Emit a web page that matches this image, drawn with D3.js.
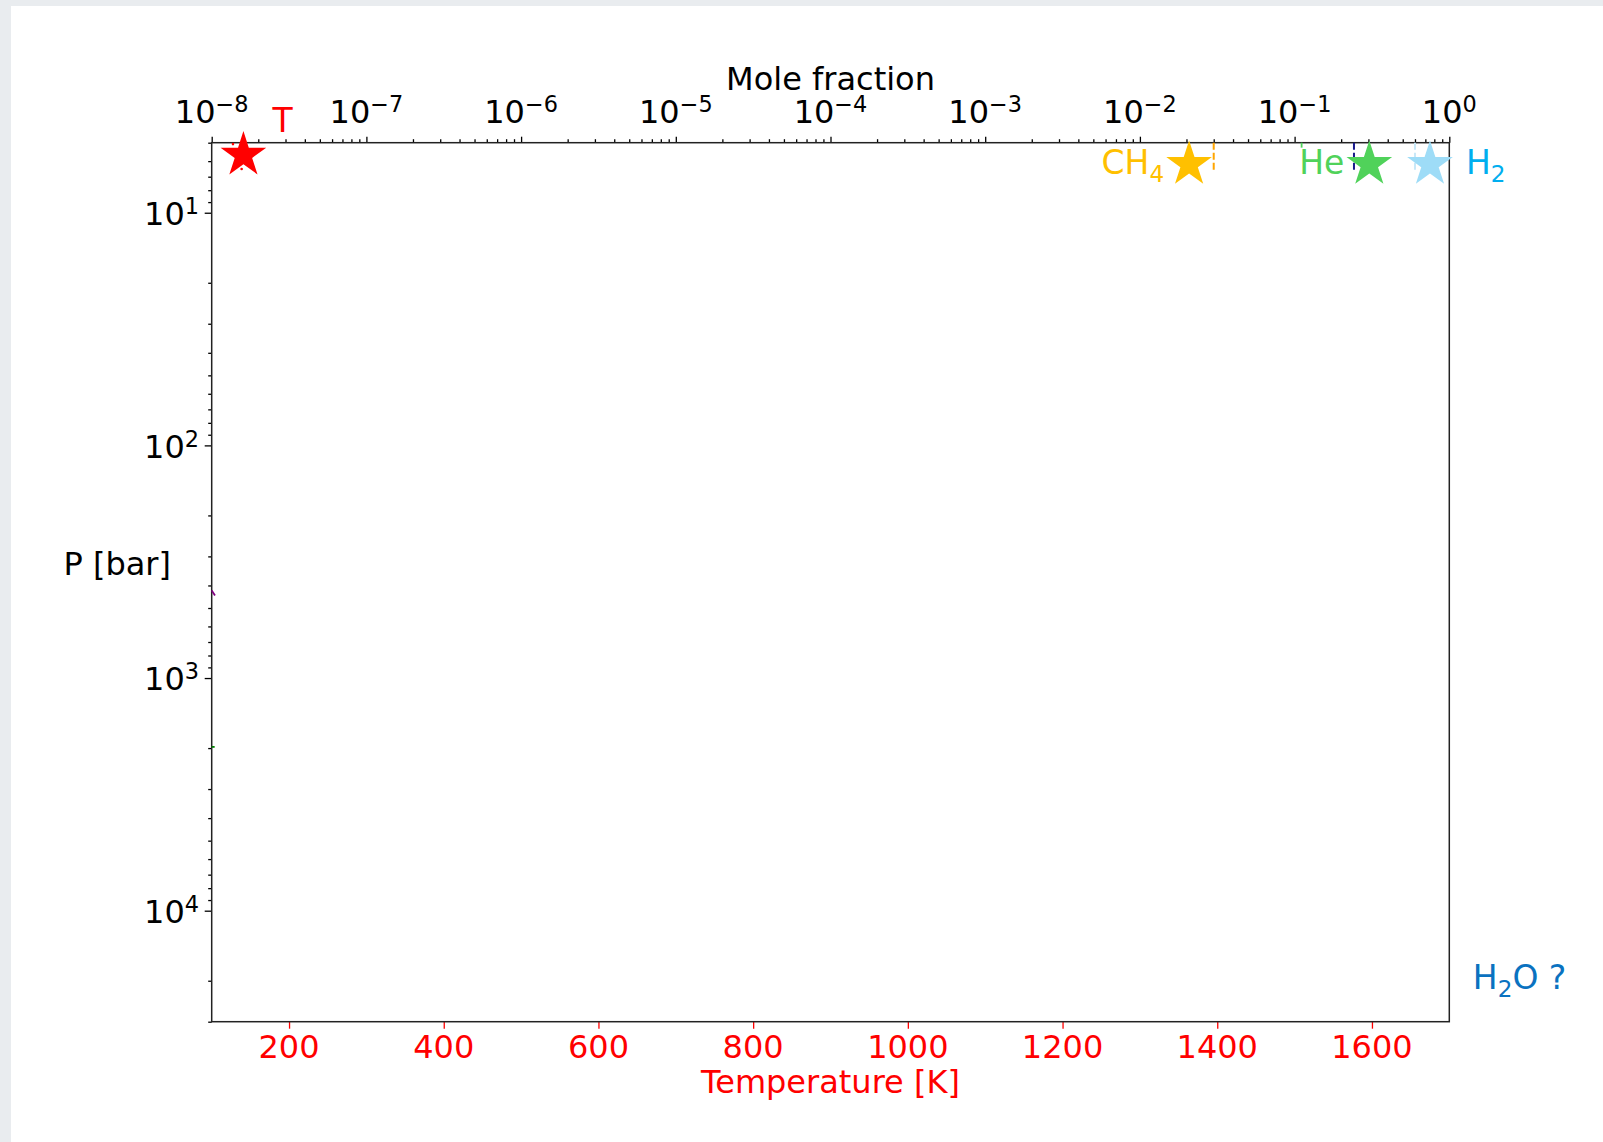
<!DOCTYPE html>
<html><head><meta charset="utf-8">
<script src="https://cdn.jsdelivr.net/npm/d3@7"></script>
<style>
html,body{margin:0;padding:0;background:#e9ecef;overflow:hidden;}
svg{display:block;}
text{font-family:"DejaVu Sans",sans-serif;}
</style></head><body>
<svg id="chart" width="1603" height="1142"></svg>
<script>
// ---- data ----
const tempTicks = [200, 400, 600, 800, 1000, 1200, 1400, 1600];
const moleExponents = [-8, -7, -6, -5, -4, -3, -2, -1, 0];
const pressureExponents = [1, 2, 3, 4];
const tempDomain = [100, 1700];
const moleDomain = [1e-8, 1];
const pressureDomain = [5, 3e4];

const tProfileStar = {T: 141, P: 5.65};
const tDotsT = [127.5, 138.7];
const tDotsP = [5.07, 6.49];

const speciesNames = ["CH4", "He", "H2"];
const speciesStarMole = [0.0208, 0.304, 0.75];
const speciesStarP = [6.2, 6.2, 6.2];
const speciesDashMole = [0.030, 0.242, 0.60];
const dashPRange = [5, 6.6];

const purpleMarkMole = [1.0e-8, 1.05e-8];
const purpleMarkP = [420, 442];
const greenMarkMole = [1.0e-8, 1.045e-8];
const greenMarkP = [1977, 1977];
const greenTickMole = 0.111;
const greenTickP = [5, 5.25];

const h2oLabel = {mole: 1.42, P: 21800};

// ---- layout ----
const W = 1603, H = 1142;
const L = 211.7, R = 1449.3, TOP = 142.7, BOT = 1021.7;
const FS = 32;
const FS_SP = 33;

const svg = d3.select("#chart");
svg.append("rect").attr("x", 11).attr("y", 6).attr("width", W - 11).attr("height", H - 6).attr("fill", "#fff");

const xT = d3.scaleLinear().domain(tempDomain).range([L, R]);
const xM = d3.scaleLog().domain(moleDomain).range([L, R]);
const yP = d3.scaleLog().domain(pressureDomain).range([TOP, BOT]);

const moleMajors = moleExponents.map(e => Math.pow(10, e));
const moleMinors = [];
moleExponents.slice(0, -1).forEach(e => { for (let k = 2; k <= 9; k++) moleMinors.push(k * Math.pow(10, e)); });
const pMajors = pressureExponents.map(e => Math.pow(10, e));
const pMinors = [];
[0, 1, 2, 3, 4].forEach(e => { for (let k = 2; k <= 9; k++) { const v = k * Math.pow(10, e); if (v >= pressureDomain[0] && v <= pressureDomain[1]) pMinors.push(v); } });

function styleAxis(g, color) {
  g.select(".domain").remove();
  g.selectAll(".tick line").attr("stroke", color).attr("stroke-width", 1.3);
  g.selectAll(".tick text").remove();
}

// top axis
svg.append("g").attr("transform", `translate(0,${TOP})`)
  .call(d3.axisTop(xM).tickValues(moleMajors).tickSize(6).tickFormat(""))
  .call(g => styleAxis(g, "#000"));
svg.append("g").attr("transform", `translate(0,${TOP})`)
  .call(d3.axisTop(xM).tickValues(moleMinors).tickSize(3.5).tickFormat(""))
  .call(g => styleAxis(g, "#000"));
// left axis
svg.append("g").attr("transform", `translate(${L},0)`)
  .call(d3.axisLeft(yP).tickValues(pMajors).tickSize(7).tickFormat(""))
  .call(g => styleAxis(g, "#000"));
svg.append("g").attr("transform", `translate(${L},0)`)
  .call(d3.axisLeft(yP).tickValues(pMinors).tickSize(3.5).tickFormat(""))
  .call(g => styleAxis(g, "#000"));
// bottom axis
svg.append("g").attr("transform", `translate(0,${BOT})`)
  .call(d3.axisBottom(xT).tickValues(tempTicks).tickSize(7).tickFormat(""))
  .call(g => styleAxis(g, "#ff0000"));

// frame
svg.append("rect").attr("x", L).attr("y", TOP).attr("width", R - L).attr("height", BOT - TOP)
  .attr("fill", "none").attr("stroke", "#222").attr("stroke-width", 1.5);

// tick labels
function powLabel(sel, e) {
  sel.append("tspan").text("10");
  sel.append("tspan").attr("font-size", FS * 0.7).attr("dy", -11).text((e < 0 ? "\u2212" : "") + Math.abs(e));
}
moleExponents.forEach(e => {
  const t = svg.append("text").attr("x", xM(Math.pow(10, e))).attr("y", 123)
    .attr("text-anchor", "middle").attr("font-size", FS).attr("fill", "#000");
  powLabel(t, e);
});
pressureExponents.forEach(e => {
  const t = svg.append("text").attr("x", 199).attr("y", yP(Math.pow(10, e)) + 12.3)
    .attr("text-anchor", "end").attr("font-size", FS).attr("fill", "#000");
  powLabel(t, e);
});
tempTicks.forEach(v => {
  svg.append("text").attr("x", xT(v)).attr("y", 1058).attr("text-anchor", "middle")
    .attr("font-size", FS).attr("fill", "#ff0000").text(v);
});

// axis titles
svg.append("text").attr("x", (L + R) / 2).attr("y", 89.5).attr("text-anchor", "middle")
  .attr("font-size", FS).attr("fill", "#000").text("Mole fraction");
svg.append("text").attr("x", (L + R) / 2).attr("y", 1093).attr("text-anchor", "middle")
  .attr("font-size", FS).attr("fill", "#ff0000").text("Temperature [K]");
svg.append("text").attr("x", 171).attr("y", 575).attr("text-anchor", "end")
  .attr("font-size", FS).attr("fill", "#000").text("P [bar]");

// star path
function starPath(R0) {
  const r0 = R0 * 0.381966;
  const pts = [];
  for (let i = 0; i < 10; i++) {
    const a = -Math.PI / 2 + i * Math.PI / 5;
    const rr = i % 2 === 0 ? R0 : r0;
    pts.push([rr * Math.cos(a), rr * Math.sin(a)]);
  }
  return "M" + pts.map(p => p.join(",")).join("L") + "Z";
}
const SR = 24;

// tiny profile remnants
svg.selectAll(".tdot").data(tDotsT).enter().append("circle")
  .attr("cx", (d, i) => xT(d)).attr("cy", (d, i) => yP(tDotsP[i])).attr("r", 1.3).attr("fill", "#ff0000");
const line = d3.line();
svg.append("path").attr("d", line(purpleMarkMole.map((m, i) => [xM(m), yP(purpleMarkP[i])])))
  .attr("stroke", "#800080").attr("stroke-width", 1.8).attr("fill", "none");
svg.append("path").attr("d", line(greenMarkMole.map((m, i) => [xM(m), yP(greenMarkP[i])])))
  .attr("stroke", "#008000").attr("stroke-width", 1.8).attr("fill", "none");
svg.append("path").attr("d", line(greenTickP.map(p => [xM(greenTickMole), yP(p)])))
  .attr("stroke", "#50d25a").attr("stroke-width", 1.8).attr("fill", "none");

// dashed lines
const dashColors = ["#ffa500", "#1a1a8c", "#c8e8f8"];
speciesDashMole.forEach((m, i) => {
  svg.append("path").attr("d", line(dashPRange.map(p => [xM(m), yP(p)])))
    .attr("stroke", dashColors[i]).attr("stroke-width", 2).attr("stroke-dasharray", "7,3").attr("fill", "none");
});

// T star
const tx = xT(tProfileStar.T), ty = yP(tProfileStar.P);
svg.append("path").attr("d", starPath(SR)).attr("transform", `translate(${tx},${ty})`).attr("fill", "#ff0000");
svg.append("text").attr("x", tx + 29).attr("y", ty - 23).attr("font-size", FS_SP).attr("fill", "#ff0000").text("T");

// species stars
const starColors = ["#ffc000", "#50d25a", "#9edcf7"];
const labelColors = ["#ffc000", "#50d25a", "#00aeef"];
speciesNames.forEach((name, i) => {
  const sx = xM(speciesStarMole[i]), sy = yP(speciesStarP[i]);
  svg.append("path").attr("d", starPath(SR)).attr("transform", `translate(${sx},${sy})`).attr("fill", starColors[i]);
  const base = sy + 10;
  const t = svg.append("text").attr("font-size", FS_SP).attr("fill", labelColors[i]).attr("y", base);
  if (name === "H2") t.attr("x", sx + 36).attr("text-anchor", "start");
  else t.attr("x", sx - 25).attr("text-anchor", "end");
  const m = name.match(/^([A-Za-z]+?)(\d*)$/);
  t.append("tspan").text(m[1]);
  if (m[2]) t.append("tspan").attr("font-size", FS_SP * 0.7).attr("dy", 8).text(m[2]);
});

// H2O ?
const h2o = svg.append("text").attr("x", xM(h2oLabel.mole)).attr("y", yP(h2oLabel.P))
  .attr("font-size", FS_SP).attr("fill", "#0a72c0");
h2o.append("tspan").text("H");
h2o.append("tspan").attr("font-size", FS_SP * 0.7).attr("dy", 8).text("2");
h2o.append("tspan").attr("dy", -8).text("O ?");
</script>
</body></html>
